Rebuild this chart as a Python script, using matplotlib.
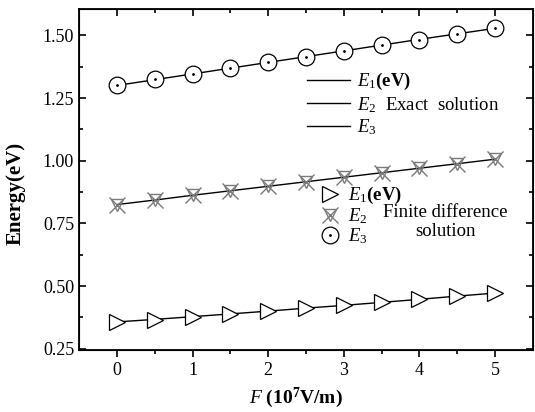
import matplotlib
matplotlib.use("Agg")
import matplotlib.pyplot as plt
import numpy as np

plt.rcParams['font.family'] = ['Liberation Serif', 'DejaVu Serif']
plt.rcParams['mathtext.fontset'] = 'custom'
plt.rcParams['mathtext.it'] = 'Liberation Serif:italic'
plt.rcParams['mathtext.rm'] = 'Liberation Serif'
plt.rcParams['mathtext.bf'] = 'Liberation Serif:bold'

F = [0, 0.5, 1, 1.5, 2, 2.5, 3, 3.5, 4, 4.5, 5]
E1_exact = [0.357, 0.367, 0.378, 0.389, 0.400, 0.412, 0.423, 0.435, 0.447, 0.460, 0.472]
E2_exact = [0.825, 0.843, 0.862, 0.880, 0.898, 0.916, 0.934, 0.952, 0.970, 0.988, 1.006]
E3_exact = [1.300, 1.323, 1.346, 1.369, 1.392, 1.415, 1.438, 1.461, 1.484, 1.506, 1.528]
E1_fd = [0.355, 0.365, 0.377, 0.388, 0.400, 0.412, 0.423, 0.435, 0.447, 0.460, 0.472]
E2_fd = [0.825, 0.843, 0.862, 0.880, 0.898, 0.916, 0.934, 0.952, 0.970, 0.988, 1.005]
E3_fd = [1.300, 1.325, 1.347, 1.370, 1.393, 1.415, 1.438, 1.460, 1.483, 1.505, 1.528]

xt = [0, 1, 2, 3, 4, 5]
xt_minor = [0.5, 1.5, 2.5, 3.5, 4.5]
yt = [0.25, 0.50, 0.75, 1.00, 1.25, 1.50]
yt_minor = [0.375, 0.625, 0.875, 1.125, 1.375]

fig = plt.figure(figsize=(5.35, 4.12), dpi=100)
ax = fig.add_axes([79/535, 62/412, (533-79)/535, (350-9)/412])

gray = '#7a7a7a'
l1, = ax.plot(F, E1_exact, color='black', lw=1.0)
l2, = ax.plot(F, E2_exact, color='black', lw=1.0)
l3, = ax.plot(F, E3_exact, color='black', lw=1.0)
m1, = ax.plot(F, E1_fd, ls='none', marker='>', ms=11, mfc='white', mec='black', mew=0.9)
m2a, = ax.plot(F, E2_fd, ls='none', marker='x', ms=12, mec=gray, mew=1.0)
m2b, = ax.plot(F, E2_fd, ls='none', marker='v', ms=9, mfc='none', mec=gray, mew=1.0)
m3, = ax.plot(F, E3_fd, ls='none', marker='o', ms=12, mfc='white', mec='black', mew=0.9)
m3d, = ax.plot(F, E3_fd, ls='none', marker='.', ms=2, color='black')

ax.set_xlim(-0.5, 5.5)
ax.set_ylim(0.245, 1.605)
ax.set_xticks(xt)
ax.set_xticks(xt_minor, minor=True)
ax.set_yticks(yt)
ax.set_yticklabels(['%.2f' % v for v in yt])
ax.set_yticks(yt_minor, minor=True)
ax.tick_params(axis='both', which='major', labelsize=13, length=5, width=1.2)
ax.tick_params(axis='both', which='minor', length=3, width=1.2)
ax.tick_params(axis='y', which='both', direction='in', right=True)
ax.tick_params(axis='x', which='both', direction='out', top=False)
for s in ax.spines.values():
    s.set_linewidth(1.3)

top = ax.twiny()
top.set_xlim(ax.get_xlim())
top.set_xticks(xt)
top.set_xticks(xt_minor, minor=True)
top.tick_params(axis='x', which='both', direction='in', labeltop=False, width=1.2)
top.tick_params(axis='x', which='major', length=5)
top.tick_params(axis='x', which='minor', length=3)

ax.set_ylabel('Energy(eV)', fontsize=15, fontweight='bold')
ax.yaxis.set_label_coords(-0.118, 0.46)
ax.set_xlabel(r'$F$ $\mathbf{(10^7V/m)}$', fontsize=14)
ax.xaxis.set_label_coords(0.478, -0.105)

leg1 = ax.legend([l1, l2, l3],
                 [r'$E_1$' + r'$\mathbf{(eV)}$', r'$E_2$  Exact  solution', r'$E_3$'],
                 loc='upper left', bbox_to_anchor=(0.485, 0.84), frameon=False,
                 fontsize=13.5, handlelength=2.3, labelspacing=0.15, handletextpad=0.4,
                 borderaxespad=0)
ax.add_artist(leg1)
leg2 = ax.legend([m1, (m2a, m2b), (m3, m3d)],
                 [r'$E_1$' + r'$\mathbf{(eV)}$', r'$E_2$', r'$E_3$'],
                 loc='upper left', bbox_to_anchor=(0.515, 0.505), frameon=False,
                 fontsize=13.5, handlelength=1.0, labelspacing=0.0, handletextpad=0.5,
                 borderaxespad=0)
ax.text(0.67, 0.375, 'Finite difference\nsolution', transform=ax.transAxes,
        fontsize=13.5, ha='left', va='center', linespacing=1.1, multialignment='center')

fig.savefig('out.png', dpi=100)
